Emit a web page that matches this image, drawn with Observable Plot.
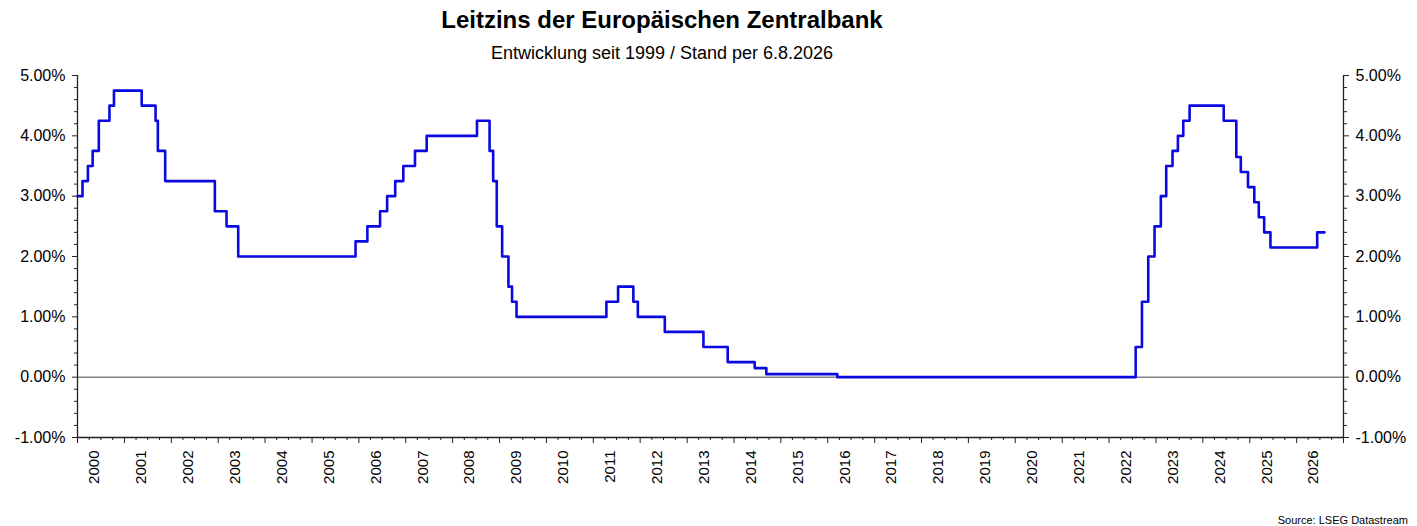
<!DOCTYPE html>
<html>
<head>
<meta charset="utf-8">
<script src="https://cdn.jsdelivr.net/npm/d3@7"></script>
<script src="https://cdn.jsdelivr.net/npm/@observablehq/plot@0.6"></script>
<style>
  html, body { margin: 0; padding: 0; background: #fff; }
  body { width: 1417px; height: 526px; position: relative; overflow: hidden; font-family: Arial, "Liberation Sans", sans-serif; }
  #title { position: absolute; left: 0; width: 1324px; top: 8px; text-align: center; font-size: 24px; line-height: 24px; font-weight: bold; color: #000; }
  #subtitle { position: absolute; left: 0; width: 1324px; top: 44px; text-align: center; font-size: 18px; line-height: 18px; color: #000; }
  #chart { position: absolute; left: 0; top: 64px; }
  #chart svg { overflow: visible; }
  #source { position: absolute; right: 9px; top: 515px; font-size: 11px; line-height: 11px; color: #000; }
</style>
</head>
<body>
<div id="title">Leitzins der Europäischen Zentralbank</div>
<div id="subtitle">Entwicklung seit 1999 / Stand per 6.8.2026</div>
<div id="chart"></div>
<div id="source">Source: LSEG Datastream</div>
<script>
// ECB main refinancing rate (step changes), value in %
const rateDates = [
  "2000-01-01","2000-02-09","2000-03-22","2000-04-28","2000-06-15","2000-09-06","2000-10-11",
  "2001-05-15","2001-08-31","2001-09-18","2001-11-14",
  "2002-12-06","2003-03-07","2003-06-06",
  "2005-12-06","2006-03-08","2006-06-15","2006-08-09","2006-10-11","2006-12-13",
  "2007-03-14","2007-06-13","2008-07-09","2008-10-15","2008-11-12","2008-12-10",
  "2009-01-21","2009-03-11","2009-04-08","2009-05-13",
  "2011-04-13","2011-07-13","2011-11-09","2011-12-14",
  "2012-07-11","2013-05-08","2013-11-13","2014-06-11","2014-09-10","2016-03-16",
  "2022-07-27","2022-09-14","2022-11-02","2022-12-21",
  "2023-02-08","2023-03-22","2023-05-10","2023-06-21","2023-08-02","2023-09-20",
  "2024-06-12","2024-09-18","2024-10-23","2024-12-18",
  "2025-02-05","2025-03-12","2025-04-23","2025-06-11",
  "2026-06-10","2026-08-06"
];
const rateValues = [
  3.00,3.25,3.50,3.75,4.25,4.50,4.75,
  4.50,4.25,3.75,3.25,
  2.75,2.50,2.00,
  2.25,2.50,2.75,3.00,3.25,3.50,
  3.75,4.00,4.25,3.75,3.25,2.50,
  2.00,1.50,1.25,1.00,
  1.25,1.50,1.25,1.00,
  0.75,0.50,0.25,0.15,0.05,0.00,
  0.50,1.25,2.00,2.50,
  3.00,3.50,3.75,4.00,4.25,4.50,
  4.25,3.65,3.40,3.15,
  2.90,2.65,2.40,2.15,
  2.40,2.40
];
const yearLabels = ["2000","2001","2002","2003","2004","2005","2006","2007","2008","2009","2010","2011","2012","2013","2014","2015","2016","2017","2018","2019","2020","2021","2022","2023","2024","2025","2026"];
const yTicks = [-1, 0, 1, 2, 3, 4, 5];
const xDomain = ["2000-01-01", "2027-01-01"];
const yDomain = [-1, 5];

const data = rateDates.map((d, i) => ({date: new Date(d + "T00:00:00Z"), rate: rateValues[i]}));
const x0 = new Date(xDomain[0] + "T00:00:00Z");
const x1 = new Date(xDomain[1] + "T00:00:00Z");
const yearStarts = yearLabels.map(y => new Date(Date.UTC(+y, 0, 1))).concat([x1]);
const quarterTicks = [];
yearLabels.forEach(y => { [3, 6, 9].forEach(m => quarterTicks.push(new Date(Date.UTC(+y, m, 1)))); });
const labelData = yearLabels.map(y => ({label: y, date: new Date(Date.UTC(+y, 4, 13))}));
const yMinor = d3.range(-1, 5.0001, 0.2).map(v => +v.toFixed(2)).filter(v => Math.abs(v - Math.round(v)) > 1e-6);
const fmt = d => d.toFixed(2) + "%";
const axisColor = "#222";

const chart = Plot.plot({
  width: 1417,
  height: 440,
  marginLeft: 77,
  marginRight: 74,
  marginTop: 11,
  marginBottom: 67,
  style: {fontFamily: "Arial, 'Liberation Sans', sans-serif", fontSize: "16px", color: "#000", background: "transparent"},
  x: {type: "utc", domain: [x0, x1]},
  y: {domain: yDomain},
  marks: [
    Plot.ruleY([0], {stroke: "#444", strokeWidth: 1}),
    Plot.line(data, {x: "date", y: "rate", curve: "step-after", stroke: "#0a0ae0", strokeWidth: 2.6}),
    // frame lines
    Plot.ruleX([x0], {stroke: axisColor, strokeWidth: 1.3}),
    Plot.ruleX([x1], {stroke: axisColor, strokeWidth: 1.3}),
    Plot.ruleY([-1], {stroke: axisColor, strokeWidth: 1.3}),
    // y axes
    Plot.axisY(yTicks, {anchor: "left", label: null, tickSize: 5, tickPadding: 7, tickFormat: fmt, fontSize: 16, stroke: axisColor}),
    Plot.axisY(yMinor, {anchor: "left", label: null, tickSize: 3, tickFormat: () => "", stroke: axisColor}),
    Plot.axisY(yTicks, {anchor: "right", label: null, tickSize: 5, tickPadding: 7, tickFormat: fmt, fontSize: 16, stroke: axisColor}),
    Plot.axisY(yMinor, {anchor: "right", label: null, tickSize: 3, tickFormat: () => "", stroke: axisColor}),
    // x axis ticks
    Plot.axisX(yearStarts, {anchor: "bottom", label: null, tickSize: 6, tickFormat: () => "", stroke: axisColor}),
    Plot.axisX(quarterTicks, {anchor: "bottom", label: null, tickSize: 3, tickFormat: () => "", stroke: axisColor}),
    Plot.text(labelData, {x: "date", y: () => -1, text: "label", rotate: -90, textAnchor: "end", lineAnchor: "middle", dy: 13, fontSize: 15, fill: "#000"})
  ]
});
document.getElementById("chart").appendChild(chart);
</script>
</body>
</html>
